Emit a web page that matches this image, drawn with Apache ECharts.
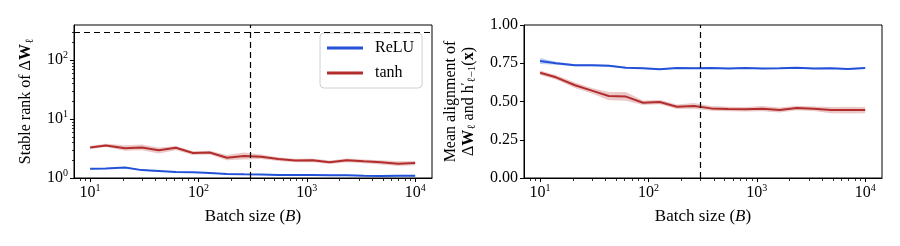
<!DOCTYPE html>
<html><head><meta charset="utf-8">
<script src="https://cdn.jsdelivr.net/npm/echarts@6/dist/echarts.min.js"></script>
<style>html,body{margin:0;padding:0;background:#fff;}#c{width:900px;height:246px;}</style>
</head><body><div id="c"></div>
<script>
// ---- data ----
const batchSizes = [10,14,21,30,43,62,89,127,183,264,379,546,785,1129,1624,2336,3360,4833,6952,10000];
const rankRelu   = [1.44,1.45,1.50,1.36,1.31,1.26,1.25,1.22,1.17,1.155,1.15,1.12,1.12,1.12,1.11,1.11,1.09,1.08,1.09,1.09];
const rankReluLo = [1.40,1.42,1.46,1.33,1.28,1.24,1.23,1.20,1.15,1.14,1.13,1.10,1.10,1.10,1.09,1.09,1.07,1.06,1.07,1.07];
const rankReluHi = [1.48,1.48,1.54,1.39,1.34,1.28,1.27,1.24,1.19,1.17,1.17,1.14,1.14,1.14,1.13,1.13,1.11,1.10,1.11,1.11];
const rankTanh   = [3.30,3.55,3.20,3.30,2.95,3.25,2.65,2.70,2.20,2.35,2.30,2.10,1.98,2.00,1.85,2.00,1.92,1.85,1.75,1.80];
const rankTanhLo = [3.10,3.35,2.90,2.95,2.60,2.95,2.45,2.50,2.00,2.05,2.10,1.95,1.85,1.85,1.72,1.85,1.78,1.70,1.60,1.65];
const rankTanhHi = [3.50,3.80,3.60,3.70,3.30,3.50,2.85,2.90,2.45,2.70,2.50,2.25,2.12,2.15,1.98,2.15,2.06,2.00,1.92,1.95];
const alignRelu   = [0.765,0.750,0.737,0.737,0.734,0.721,0.717,0.711,0.719,0.717,0.719,0.715,0.719,0.715,0.717,0.721,0.715,0.717,0.713,0.719];
const alignReluLo = [0.745,0.740,0.730,0.730,0.728,0.716,0.712,0.706,0.714,0.712,0.714,0.710,0.714,0.710,0.712,0.716,0.710,0.712,0.708,0.714];
const alignReluHi = [0.785,0.760,0.744,0.744,0.740,0.726,0.722,0.716,0.724,0.722,0.724,0.720,0.724,0.720,0.722,0.726,0.720,0.722,0.718,0.724];
const alignTanh   = [0.688,0.658,0.606,0.571,0.536,0.532,0.492,0.497,0.466,0.471,0.455,0.451,0.449,0.453,0.444,0.458,0.453,0.444,0.444,0.444];
const alignTanhLo = [0.673,0.643,0.588,0.553,0.508,0.505,0.477,0.482,0.451,0.452,0.440,0.436,0.434,0.436,0.428,0.443,0.438,0.424,0.422,0.424];
const alignTanhHi = [0.703,0.673,0.624,0.589,0.562,0.562,0.507,0.512,0.481,0.490,0.470,0.466,0.464,0.470,0.460,0.473,0.468,0.464,0.466,0.464];
const criticalBatch = 300;
const maxRank = 300;
const xMajorTicks = [10,100,1000,10000];
const xMinorTicks = [8,9,20,30,40,50,60,70,80,90,200,300,400,500,600,700,800,900,2000,3000,4000,5000,6000,7000,8000,9000];
const yMajorTicksLeft = [1,10,100];
const yMinorTicksLeft = [2,3,4,5,6,7,8,9,20,30,40,50,60,70,80,90,200,300];
const seriesNames = ['ReLU','tanh'];

// ---- style ----
const FONT = 'Liberation Serif';
const BLUE = '#2352d8';
const RED = '#b42d2d';
const BLUE_BAND = '#c3cff3';
const RED_BAND = '#ecc9c9';
const xMin = 7.1, xMax = 14300;
const yMinL = 1, yMaxL = 392;
const MINOR_LEN = 2.5;

const supRich = { s: { fontSize: 10, fontFamily: FONT, color: '#000', verticalAlign: 'top', lineHeight: 20, padding:[0,0,6,0] } };
function powLabel(v) {
  const e = Math.round(Math.log10(v));
  return '10{s|' + e + '}';
}

function bandSeries(name, xi, yi, lo, hi, color) {
  return {
    type: 'custom', name: name + ' band', xAxisIndex: xi, yAxisIndex: yi, z: 1, silent: true,
    data: batchSizes.map((b, i) => [b, lo[i], hi[i]]),
    encode: { x: 0, y: [1, 2] },
    renderItem: function (params, api) {
      if (params.dataIndex !== 0) return null;
      const top = [], bot = [];
      for (let i = 0; i < batchSizes.length; i++) {
        top.push(api.coord([batchSizes[i], hi[i]]));
        bot.unshift(api.coord([batchSizes[i], lo[i]]));
      }
      return { type: 'polygon', shape: { points: top.concat(bot) }, style: { fill: color }, z2: 0 };
    }
  };
}
function lineSeries(name, xi, yi, vals, color, extra) {
  return Object.assign({
    type: 'line', name: name, xAxisIndex: xi, yAxisIndex: yi, z: 3,
    data: batchSizes.map((b, i) => [b, vals[i]]),
    symbol: 'none', lineStyle: { color: color, width: 2 }, itemStyle: { color: color }
  }, extra || {});
}
// minor ticks of the log axes, placed through the axes' own scales
function minorTickSeries(xi, yi, values, dir, yBase) {
  return {
    type: 'custom', name: 'minor' + xi + dir, xAxisIndex: xi, yAxisIndex: yi, silent: true, clip: false, z: 5,
    data: values.map(v => dir === 'x' ? [v, yBase] : [xMin, v]),
    encode: { x: 0, y: 1 },
    renderItem: function (params, api) {
      const p = api.coord([api.value(0), api.value(1)]);
      const x = Math.round(p[0]) + 0.5, y = Math.round(p[1]) + 0.5;
      const shape = dir === 'x' ? { x1: x, y1: y, x2: x, y2: y + MINOR_LEN } : { x1: x, y1: y, x2: x - MINOR_LEN, y2: y };
      return { type: 'line', shape: shape, style: { stroke: '#000', lineWidth: 0.8 } };
    }
  };
}

function mainX(gi) {
  return {
    type: 'log', logBase: 10, gridIndex: gi, min: xMin, max: xMax, position: 'bottom',
    name: 'Batch size ({i|B})', nameLocation: 'middle', nameGap: 27,
    nameTextStyle: { fontFamily: FONT, fontSize: 17, color: '#000', rich: { i: { fontStyle: 'italic', fontFamily: FONT, fontSize: 17 } } },
    axisLine: { lineStyle: { color: '#000', width: 1 } },
    axisTick: { customValues: xMajorTicks, length: 4, lineStyle: { color: '#000' } },
    axisLabel: { customValues: xMajorTicks, formatter: powLabel, fontFamily: FONT, fontSize: 16, color: '#000', margin: 5, lineHeight: 20, rich: supRich },
    splitLine: { show: false }
  };
}
const gridBox = { top: 25, width: 358, height: 153 };

const option = {
  animation: false,
  backgroundColor: '#fff',
  grid: [
    Object.assign({ left: 74, show: true, borderColor: '#000', borderWidth: 1, backgroundColor: 'transparent' }, gridBox),
    Object.assign({ left: 524, show: true, borderColor: '#000', borderWidth: 1, backgroundColor: 'transparent' }, gridBox)
  ],
  legend: {
    data: seriesNames, left: 320, top: 33, orient: 'vertical',
    icon: 'rect', itemWidth: 36, itemHeight: 3, itemGap: 9,
    padding: [7, 8, 7, 7], borderColor: '#d0d0d0', borderWidth: 1, borderRadius: 4, backgroundColor: '#fff',
    textStyle: { fontFamily: FONT, fontSize: 16, color: '#000', padding: [0, 0, 0, 7] },
    selectedMode: false
  },
  xAxis: [mainX(0), mainX(1)],
  yAxis: [{
    type: 'log', logBase: 10, gridIndex: 0, min: yMinL, max: yMaxL, position: 'left',
    name: 'Stable rank of Δ{b|W}{sub|ℓ}', nameLocation: 'middle', nameGap: 38, nameRotate: 90,
    nameTextStyle: { fontFamily: FONT, fontSize: 16, color: '#000', lineHeight: 20,
      rich: { b: { fontWeight: 'bold', fontFamily: FONT, fontSize: 16, lineHeight: 20 }, sub: { fontFamily: FONT, fontSize: 11, verticalAlign: 'bottom', lineHeight: 20, padding: [4,0,0,0] } } },
    axisLine: { show: true, lineStyle: { color: '#000', width: 1 } },
    axisTick: { show: true, customValues: yMajorTicksLeft, length: 4, lineStyle: { color: '#000' } },
    axisLabel: { customValues: yMajorTicksLeft, formatter: powLabel, fontFamily: FONT, fontSize: 16, color: '#000', margin: 6, lineHeight: 20, rich: supRich },
    splitLine: { show: false }
  }, {
    type: 'value', gridIndex: 1, min: 0, max: 1, interval: 0.25, position: 'left',
    name: 'Mean alignment of\nΔ{b|W}{sub|ℓ} and h{sup|′}{sub|ℓ−1}({b|x})', nameLocation: 'middle', nameGap: 46, nameRotate: 90,
    nameTextStyle: { fontFamily: FONT, fontSize: 16, color: '#000', lineHeight: 18,
      rich: { b: { fontWeight: 'bold', fontFamily: FONT, fontSize: 16, lineHeight: 18 },
              sub: { fontFamily: FONT, fontSize: 11, verticalAlign: 'bottom', lineHeight: 18, padding: [4,0,0,0] },
              sup: { fontFamily: FONT, fontSize: 12, verticalAlign: 'top', lineHeight: 18 } } },
    axisLine: { show: true, lineStyle: { color: '#000', width: 1 } },
    axisTick: { show: true, length: 4, lineStyle: { color: '#000' } },
    axisLabel: { formatter: v => v.toFixed(2), fontFamily: FONT, fontSize: 16, color: '#000', margin: 6 },
    splitLine: { show: false }
  }],
  series: [
    bandSeries('ReLU', 0, 0, rankReluLo, rankReluHi, BLUE_BAND),
    bandSeries('tanh', 0, 0, rankTanhLo, rankTanhHi, RED_BAND),
    lineSeries('ReLU', 0, 0, rankRelu, BLUE),
    lineSeries('tanh', 0, 0, rankTanh, RED, {
      markLine: { silent: true, symbol: 'none', label: { show: false },
        lineStyle: { color: '#000', type: [6, 4], width: 1.2 },
        data: [{ xAxis: criticalBatch }, { yAxis: maxRank }] }
    }),
    bandSeries('ReLU', 1, 1, alignReluLo, alignReluHi, BLUE_BAND),
    bandSeries('tanh', 1, 1, alignTanhLo, alignTanhHi, RED_BAND),
    lineSeries('ReLU', 1, 1, alignRelu, BLUE),
    lineSeries('tanh', 1, 1, alignTanh, RED, {
      markLine: { silent: true, symbol: 'none', label: { show: false },
        lineStyle: { color: '#000', type: [6, 4], width: 1.2 },
        data: [{ xAxis: criticalBatch }] }
    }),
    minorTickSeries(0, 0, xMinorTicks, 'x', yMinL),
    minorTickSeries(0, 0, yMinorTicksLeft, 'y'),
    minorTickSeries(1, 1, xMinorTicks, 'x', 0)
  ]
};
const chart = echarts.init(document.getElementById('c'), null, { renderer: 'canvas' });
chart.setOption(option);
</script></body></html>
